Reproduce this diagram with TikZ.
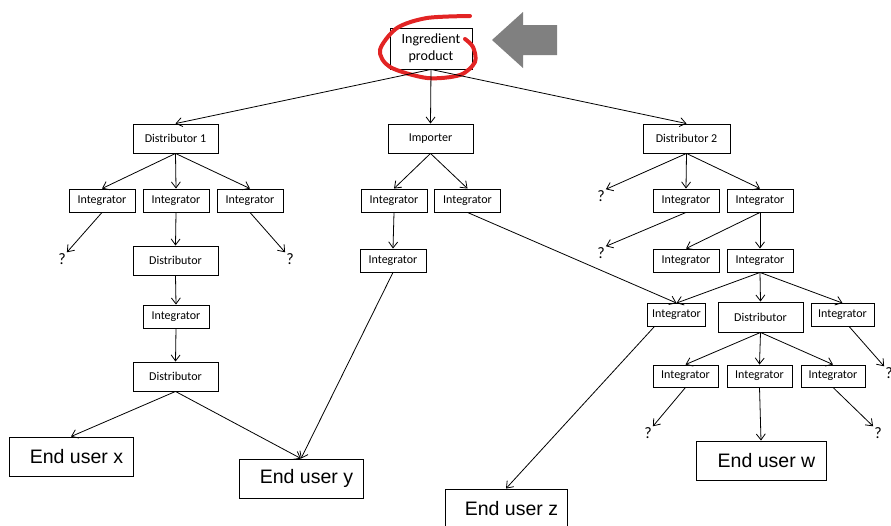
\documentclass[tikz,border=0pt]{standalone}
\usepackage{fontspec}
\setmainfont{Carlito}
\newfontfamily\arialfont{Liberation Sans}
\usetikzlibrary{arrows.meta}
\definecolor{markred}{RGB}{226,36,36}
\tikzset{
  box/.style={draw, line width=0.9pt, inner sep=0pt, minimum width=66pt, minimum height=23pt, font=\fontsize{12}{14}\selectfont},
  wide/.style={box, minimum width=85pt, minimum height=29pt},
  enduser/.style={draw, line width=0.9pt, inner sep=0pt, minimum width=124pt, minimum height=39pt, font=\arialfont\fontsize{19.5}{22}\selectfont, execute at begin node=\hspace*{11pt}},
  qm/.style={inner sep=1pt, font=\fontsize{16}{18}\selectfont},
  arr/.style={-{Straight Barb[length=6pt,width=9pt]}, line width=0.8pt},
}
\begin{document}
\begin{tikzpicture}[x=1pt,y=1pt,yscale=-1,xscale=1]
\useasboundingbox (0,0) rectangle (891,525);
%顶部
\node [box, minimum width=82pt, minimum height=41pt, align=center, font=\fontsize{14}{17}\selectfont] (ip) at (431,48.5) {Ingredient\\product};
\draw [markred, line width=4pt, line cap=round] plot [smooth] coordinates {(470,16) (427,18) (397,28) (380,50) (390,67) (427,78) (460,75) (475,62) (473,47) (465,39)};
\fill [gray] (492,40) -- (523,12) -- (523,25) -- (557,25) -- (557,55) -- (523,55) -- (523,68) -- cycle;
%第一层
\node [wide] (d1) at (175.5,138.5) {Distributor 1};
\node [wide] (imp) at (430.5,138.5) {Importer};
\node [wide, minimum width=87pt] (d2) at (686.5,138.5) {Distributor 2};
%左支
\node [box] (d1a) at (102,200.5) {Integrator};
\node [box] (d1b) at (176,200.5) {Integrator};
\node [box] (d1c) at (250,200.5) {Integrator};
\node [wide] (d1d) at (175.5,260.5) {Distributor};
\node [box] (d1e) at (176,316.5) {Integrator};
\node [wide] (d1f) at (175.5,376.5) {Distributor};
\node [qm] (q1) at (62,259) {?};
\node [qm] (q2) at (290,259) {?};
\node [enduser] (ux) at (71,456.5) {End user x};
\node [enduser] (uy) at (301,478.5) {End user y};
%中支
\node [box] (ima) at (394,200.5) {Integrator};
\node [box] (imb) at (467.5,200.5) {Integrator};
\node [box] (imc) at (393,260.5) {Integrator};
%右支
\node [box] (d2a) at (686,200.5) {Integrator};
\node [box] (d2b) at (760,200.5) {Integrator};
\node [box] (d2c) at (686,260.5) {Integrator};
\node [box] (d2d) at (760,260.5) {Integrator};
\node [box, minimum width=58pt] (d2e) at (676.5,315) {Integrator};
\node [wide, minimum height=30pt] (d2f) at (760.5,317) {Distributor};
\node [box, minimum width=63pt] (d2g) at (842.5,315) {Integrator};
\node [box, minimum width=65pt, minimum height=22pt] (d2h) at (685.5,376) {Integrator};
\node [box, minimum width=65pt, minimum height=22pt] (d2i) at (759.5,376) {Integrator};
\node [box, minimum width=64pt, minimum height=22pt] (d2j) at (833,376) {Integrator};
\node [qm] (q3) at (601,196) {?};
\node [qm] (q4) at (601,253) {?};
\node [qm] (q5) at (648,433) {?};
\node [qm] (q6) at (878,433) {?};
\node [qm] (q7) at (889,373) {?};
\node [enduser, minimum width=130pt] (uw) at (761,460.5) {End user w};
\node [enduser, minimum width=122pt] (uz) at (506,508.5) {End user z};
%箭头
\draw [arr] (ip.south) -- (d1.north);
\draw [arr] (ip.south) -- (imp.north);
\draw [arr] (ip.south) -- (d2.north);
\draw [arr] (d1.south) -- (d1a.north);
\draw [arr] (d1.south) -- (d1b.north);
\draw [arr] (d1.south) -- (d1c.north);
\draw [arr] (d1a.south) -- (q1.north east);
\draw [arr] (d1c.south) -- (q2.north west);
\draw [arr] (d1b.south) -- (d1d.north);
\draw [arr] (d1d.south) -- (d1e.north);
\draw [arr] (d1e.south) -- (d1f.north);
\draw [arr] (d1f.south) -- (ux.north);
\draw [arr] (d1f.south) -- (uy.north);
\draw [arr] (imp.south) -- (ima.north);
\draw [arr] (imp.south) -- (imb.north);
\draw [arr] (ima.south) -- (imc.north);
\draw [arr] (imc.south) -- (uy.north);
\draw [arr] (imb.south) -- (d2e.north);
\draw [arr] (d2.south) -- (q3.north east);
\draw [arr] (d2.south) -- (d2a.north);
\draw [arr] (d2.south) -- (d2b.north);
\draw [arr] (d2a.south) -- (q4.north east);
\draw [arr] (d2b.south) -- (d2c.north);
\draw [arr] (d2b.south) -- (d2d.north);
\draw [arr] (d2d.south) -- (d2e.north);
\draw [arr] (d2d.south) -- (d2f.north);
\draw [arr] (d2d.south) -- (d2g.north);
\draw [arr] ([xshift=7pt]d2e.south west) -- (uz.north);
\draw [arr] ([xshift=7pt]d2g.south) -- (q7.north west);
\draw [arr] (d2f.south) -- (d2h.north);
\draw [arr] (d2f.south) -- (d2i.north);
\draw [arr] (d2f.south) -- (d2j.north);
\draw [arr] (d2h.south) -- (q5.north east);
\draw [arr] (d2i.south) -- (uw.north);
\draw [arr] (d2j.south) -- (q6.north west);
\end{tikzpicture}
\end{document}
